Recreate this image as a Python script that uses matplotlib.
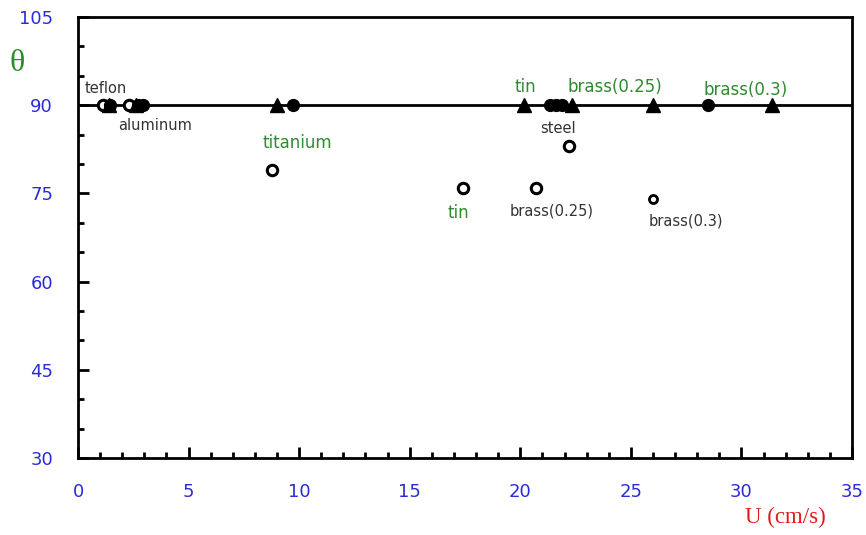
import matplotlib
matplotlib.use("Agg")
import matplotlib.pyplot as plt
from matplotlib.ticker import MultipleLocator

# Data (U in cm/s, theta in degrees)
open_u = [1.15, 2.3, 8.75, 17.4, 20.7, 22.2]
open_theta = [90, 90, 79, 76, 76, 83]
open_small_u = [26.0]
open_small_theta = [74]
filled_u = [1.45, 2.7, 2.95, 9.7, 21.35, 21.6, 21.9, 28.5]
filled_theta = [90, 90, 90, 90, 90, 90, 90, 90]
tri_u = [1.4, 2.6, 9.0, 20.15, 22.35, 26.0, 31.4]
tri_theta = [90, 90, 90, 90, 90, 90, 90]
ref_theta = 90

labels = ["teflon", "aluminum", "titanium", "tin", "brass(0.25)", "brass(0.3)",
          "steel", "tin", "brass(0.25)", "brass(0.3)"]
label_u = [0.32, 1.81, 8.32, 19.76, 22.12, 28.27, 20.9, 16.73, 19.54, 25.82]
label_theta = [92.9, 86.6, 83.6, 93.1, 93.1, 92.6, 86.1, 71.7, 72.0, 70.3]
label_colors = ["#333333", "#333333", "#2e8b2e", "#2e8b2e", "#2e8b2e", "#2e8b2e",
                "#333333", "#2e8b2e", "#333333", "#333333"]
label_sizes = [10.5, 10.5, 12, 12, 12, 12, 10.5, 12, 10.5, 10.5]

fig = plt.figure(figsize=(8.66, 5.35), dpi=100)
ax = fig.add_axes([0.0901, 0.1439, 0.8937, 0.8243])

ax.axhline(ref_theta, color="black", lw=2, zorder=1)
ax.plot(open_u, open_theta, "o", mfc="white", mec="black", mew=2.2, ms=7.5, ls="none", zorder=2)
ax.plot(open_small_u, open_small_theta, "o", mfc="white", mec="black", mew=2.0, ms=5.8, ls="none", zorder=2)
ax.plot(tri_u, tri_theta, "^", color="black", ms=9.5, ls="none", zorder=3)
ax.plot(filled_u, filled_theta, "o", color="black", ms=8.5, ls="none", zorder=3)

for t, u, th, c, s in zip(labels, label_u, label_theta, label_colors, label_sizes):
    ax.text(u, th, t, color=c, fontsize=s, ha="left", va="center", family="DejaVu Sans")

ax.set_xlim(0, 35)
ax.set_ylim(30, 105)
ax.xaxis.set_major_locator(MultipleLocator(5))
ax.xaxis.set_minor_locator(MultipleLocator(1))
ax.yaxis.set_major_locator(MultipleLocator(15))
ax.yaxis.set_minor_locator(MultipleLocator(5))
ax.tick_params(which="both", direction="in", top=False, right=False, width=2, color="black")
ax.tick_params(which="major", length=8, labelsize=13, labelcolor="#2b2bd9", pad=18)
ax.tick_params(which="minor", length=4)
for sp in ax.spines.values():
    sp.set_linewidth(2)

fig.text(0.953, 0.013, "U (cm/s)", color="#e01a1a", fontsize=16.5, family="Liberation Serif",
         ha="right", va="bottom")
fig.text(0.02, 0.882, "θ", color="#2e8b2e", fontsize=23, family="Liberation Serif",
         ha="center", va="center")

fig.savefig("out.png", dpi=100)
